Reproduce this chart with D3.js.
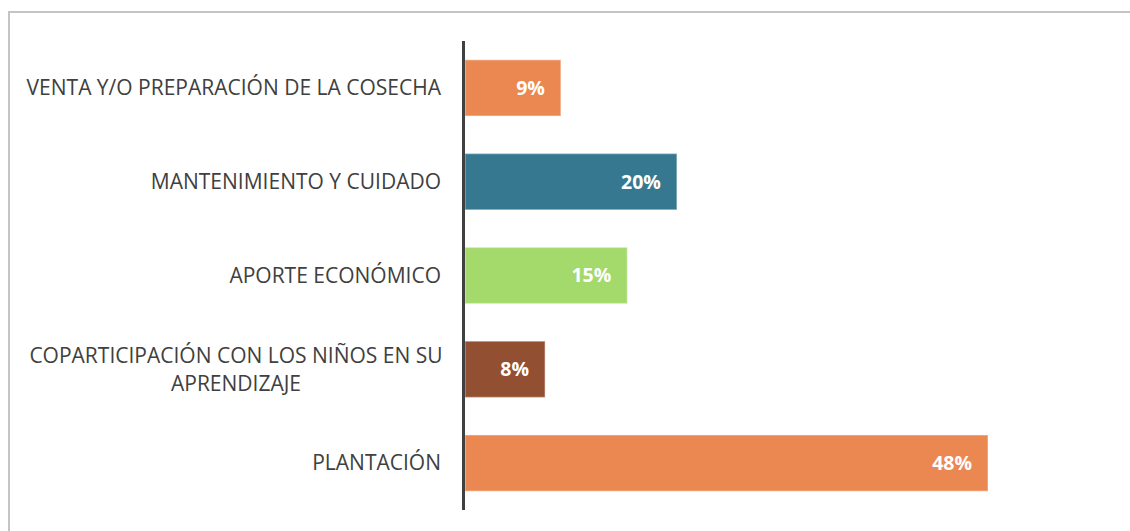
<!DOCTYPE html>
<html><head><meta charset="utf-8">
<script src="https://cdn.jsdelivr.net/npm/d3@7"></script>
<style>html,body{margin:0;padding:0;background:#fff;}</style>
</head><body>
<svg id="c" width="1130" height="531"></svg>
<script>
const categories = ["VENTA Y/O PREPARACIÓN DE LA COSECHA","MANTENIMIENTO Y CUIDADO","APORTE ECONÓMICO","COPARTICIPACIÓN CON LOS NIÑOS EN SU|APRENDIZAJE","PLANTACIÓN"];
const values = [8.8, 19.45, 14.9, 7.35, 48];
const valueLabels = ["9%","20%","15%","8%","48%"];
const colors = ["#EB8852","#377891","#A4D96C","#924F31","#EB8852"];

const svg = d3.select("#c");
svg.append("rect").attr("x",9).attr("y",12).attr("width",1140).attr("height",540)
  .attr("fill","#fff").attr("stroke","#c4c4c4").attr("stroke-width",2);

const x0 = 465;
const x = d3.scaleLinear().domain([0,48]).range([x0,988]);
const y = d3.scaleBand().domain(categories).range([41,510]).paddingInner(0.4).paddingOuter(0.2);

svg.selectAll("rect.bar").data(categories).enter().append("rect")
  .attr("class","bar")
  .attr("x",x(0)).attr("y",d=>y(d))
  .attr("width",(d,i)=>x(values[i])-x(0)).attr("height",y.bandwidth())
  .attr("fill",(d,i)=>colors[i])
  .attr("stroke","rgba(255,255,255,0.35)").attr("stroke-width",1.5);

svg.selectAll("text.val").data(categories).enter().append("text")
  .attr("class","val")
  .attr("x",(d,i)=>x(values[i])-16).attr("y",d=>y(d)+y.bandwidth()/2)
  .attr("dy","0.35em").attr("text-anchor","end")
  .attr("font-family","'Open Sans', sans-serif").attr("font-weight","bold").attr("font-size",19.5)
  .attr("fill","#fff").text((d,i)=>valueLabels[i]);

const lab = svg.selectAll("text.cat").data(categories).enter().append("text")
  .attr("class","cat")
  .attr("font-family","'Open Sans', sans-serif").attr("font-size",21).attr("fill","#404040")
  .attr("text-anchor","middle");
lab.each(function(d){
  const lines = d.split("|");
  const t = d3.select(this);
  const cy = y(d)+y.bandwidth()/2;
  if(lines.length===1){
    t.attr("text-anchor","end").append("tspan").attr("x",441).attr("y",cy).attr("dy","0.35em").text(lines[0]);
  } else {
    lines.forEach((l,k)=>{
      t.append("tspan").attr("x",236).attr("y",cy+(k-(lines.length-1)/2)*28).attr("dy","0.35em").text(l);
    });
  }
});

svg.append("line").attr("x1",x0-1.5).attr("x2",x0-1.5).attr("y1",41).attr("y2",510)
  .attr("stroke","#404040").attr("stroke-width",3);
</script>
</body></html>
